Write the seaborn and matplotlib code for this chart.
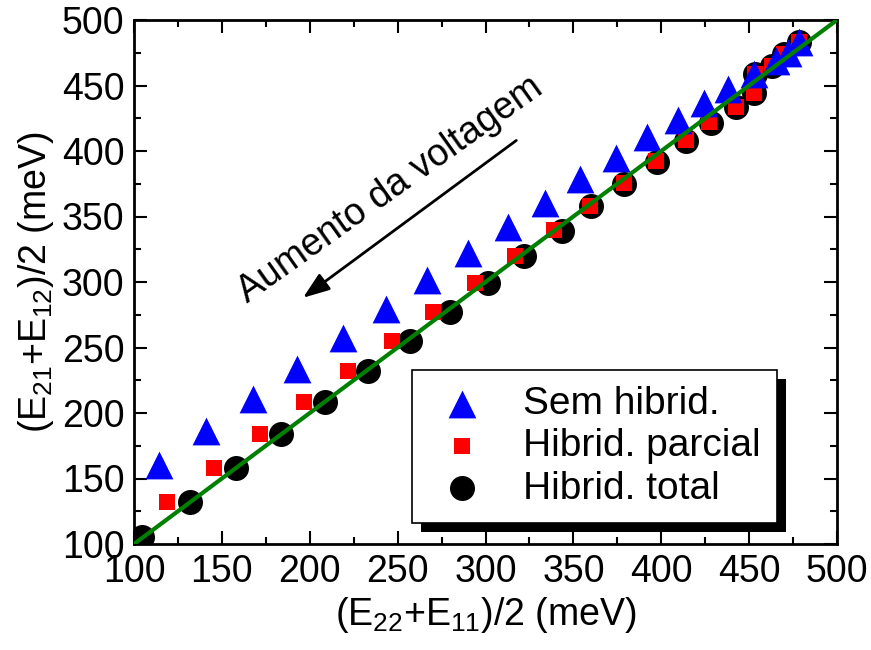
import matplotlib
matplotlib.use("Agg")
import matplotlib.pyplot as plt
from matplotlib.patches import Rectangle
from matplotlib.transforms import IdentityTransform
from matplotlib.ticker import MultipleLocator
import seaborn as sns
import pandas as pd

# ---- data ----
tri_x = [114.0, 141.2, 167.7, 192.8, 218.7, 243.4, 266.9, 290.0, 312.8, 333.6,
         354.0, 374.0, 392.0, 409.5, 424.3, 437.8, 452.6, 465.2, 472.0, 478.4]
tri_y = [160.5, 186.1, 210.6, 233.9, 257.3, 279.3, 301.5, 322.0, 341.9, 360.3,
         378.7, 394.5, 410.6, 423.9, 436.4, 447.0, 458.6, 468.6, 474.7, 483.1]

sq_x = [118.7, 145.3, 171.6, 196.6, 221.9, 246.6, 270.4, 294.1, 316.9, 338.8,
        359.7, 378.7, 396.8, 413.9, 427.1, 442.4, 452.7, 453.5, 463.3, 470.0, 478.4]
sq_y = [132.4, 158.0, 184.1, 208.3, 232.0, 255.0, 277.2, 299.5, 319.9, 339.8,
        358.2, 375.6, 392.2, 408.3, 422.1, 433.3, 444.0, 458.6, 465.0, 474.0, 483.0]

circ_x = [104.7, 131.6, 157.9, 183.5, 208.6, 233.3, 257.1, 279.9, 301.7, 321.7,
          343.6, 360.3, 378.7, 397.7, 413.9, 428.1, 442.4, 452.7, 453.5, 463.3, 470.0, 478.4]
circ_y = [105.6, 132.4, 158.0, 184.1, 208.3, 232.0, 255.0, 277.2, 299.0, 319.9,
          339.3, 358.2, 375.1, 391.4, 407.5, 421.6, 433.3, 444.1, 458.6, 465.0, 474.0, 483.0]

line_x = [100, 500]
line_y = [100, 500]

labels = ["Sem hibrid.", "Hibrid. parcial", "Hibrid. total"]
xlabel = r"(E$_{22}$+E$_{11}$)/2 (meV)"
ylabel = r"(E$_{21}$+E$_{12}$)/2 (meV)"
annot_text = "Aumento da voltagem"
ticks = [100, 150, 200, 250, 300, 350, 400, 450, 500]

# ---- style ----
sns.set_theme(style="ticks")
FS = 27
LFS = 28
plt.rcParams.update({
    "font.family": ["Liberation Sans", "DejaVu Sans"],
    "mathtext.fontset": "custom",
    "mathtext.rm": "Liberation Sans",
    "mathtext.it": "Liberation Sans:italic",
    "mathtext.bf": "Liberation Sans:bold",
    "mathtext.default": "regular",
    "font.size": FS,
    "text.color": "black",
    "axes.labelcolor": "black",
    "xtick.color": "black",
    "ytick.color": "black",
    "axes.edgecolor": "black",
})

fig = plt.figure(figsize=(8.71, 6.5), dpi=100)
ax = fig.add_axes([134 / 871, 1 - 544 / 650, (837 - 134) / 871, (544 - 20) / 650])

df_c = pd.DataFrame({"x": circ_x, "y": circ_y})
df_s = pd.DataFrame({"x": sq_x, "y": sq_y})
df_t = pd.DataFrame({"x": tri_x, "y": tri_y})

sns.scatterplot(data=df_c, x="x", y="y", ax=ax, marker="o", s=18 ** 2,
                color="black", linewidth=0, zorder=2, legend=False)
sns.scatterplot(data=df_s, x="x", y="y", ax=ax, marker="s", s=11.5 ** 2,
                color="#ff0000", linewidth=0, zorder=3, legend=False)
sns.scatterplot(data=df_t, x="x", y="y", ax=ax, marker="^", s=20 ** 2,
                color="#0000ff", linewidth=0, zorder=4, legend=False)
sns.lineplot(x=line_x, y=line_y, ax=ax, color="#008000", linewidth=3, zorder=5)

colls = ax.collections
handles = [colls[2], colls[1], colls[0]]

ax.set_xlim(100, 500)
ax.set_ylim(100, 500)
ax.set_xticks(ticks)
ax.set_yticks(ticks)
ax.xaxis.set_minor_locator(MultipleLocator(25))
ax.yaxis.set_minor_locator(MultipleLocator(25))
ax.tick_params(which="both", direction="in", top=True, right=True,
               labelsize=FS, pad=7, colors="black")
ax.tick_params(which="major", length=9.5, width=1.5)
ax.tick_params(which="minor", length=5, width=1.5)
for sp in ax.spines.values():
    sp.set_linewidth(2)
    sp.set_color("black")
ax.set_xlabel(xlabel, fontsize=FS, labelpad=4, color="black")
ax.set_ylabel(ylabel, fontsize=FS, labelpad=4, color="black")

# annotation
ax.text(245.7, 370.5, annot_text, rotation=35.4, fontsize=FS, color="black",
        ha="center", va="center", rotation_mode="anchor")
ax.annotate("", xy=(194.9, 286.7), xytext=(318.8, 409.3),
            arrowprops=dict(arrowstyle="-|>,head_length=0.6,head_width=0.22",
                            color="black", lw=2))

leg = ax.legend(handles, labels, loc="lower right", bbox_to_anchor=(0.915, 0.04),
                borderaxespad=0, fontsize=LFS, frameon=True, fancybox=False,
                edgecolor="black", framealpha=1, handlelength=1.73,
                handletextpad=0.72, borderpad=0.42, labelspacing=0.16,
                scatterpoints=1)
leg.get_frame().set_linewidth(1.2)
leg.set_zorder(10)
for t in leg.get_texts():
    t.set_color("black")

fig.canvas.draw()
bb = leg.get_window_extent()
shadow = Rectangle((bb.x0 + 9, bb.y0 - 9), bb.width, bb.height,
                   transform=IdentityTransform(), facecolor="black",
                   edgecolor="none", zorder=9, clip_on=False)
ax.add_artist(shadow)

fig.savefig("out.png", dpi=100, facecolor="white")
